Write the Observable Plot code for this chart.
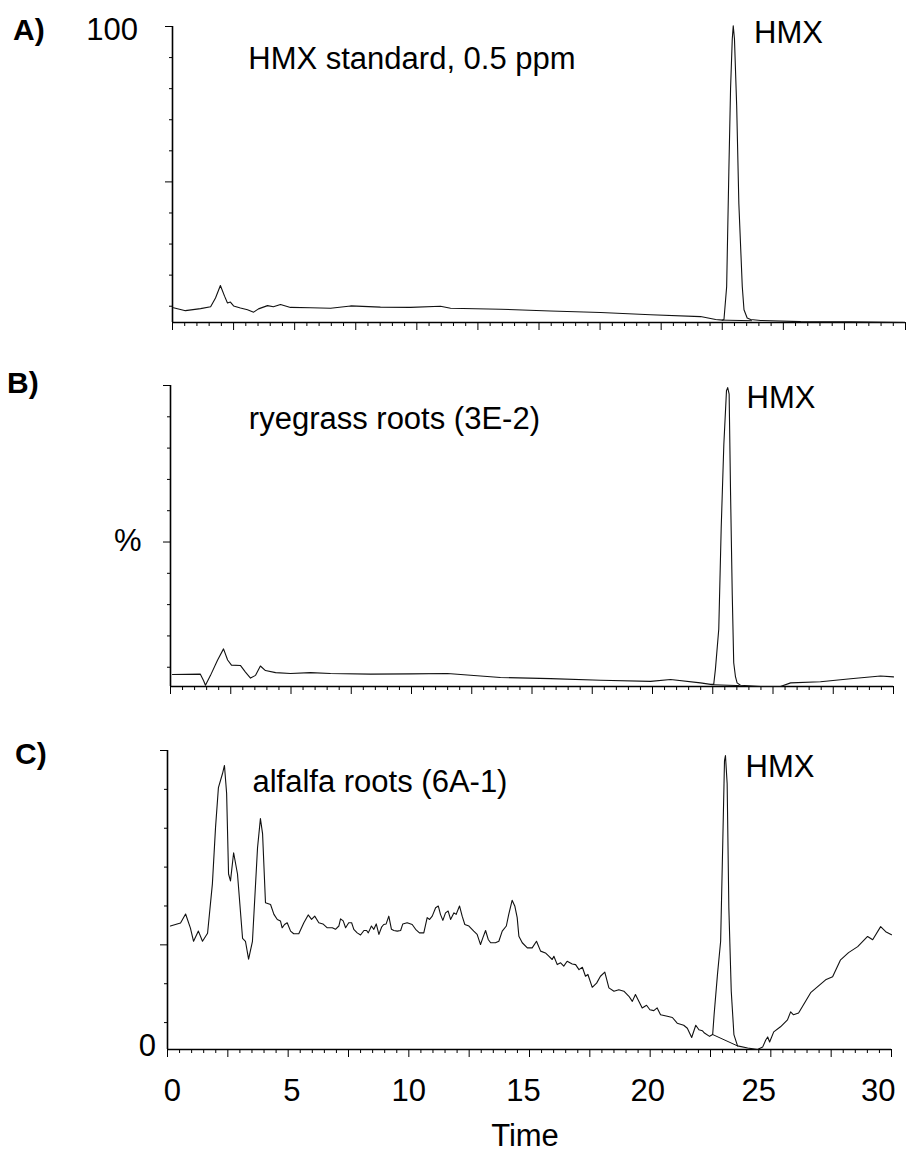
<!DOCTYPE html>
<html>
<head>
<meta charset="utf-8">
<script src="https://cdn.jsdelivr.net/npm/d3@7"></script>
<script src="https://cdn.jsdelivr.net/npm/@observablehq/plot@0.6"></script>
<style>
  body { margin: 0; background: #fff; }
  #chart { position: relative; width: 907px; height: 1155px; background: #fff; font-family: "Liberation Sans", Arial, sans-serif; }
  #chart > .panel { position: absolute; left: 0; }
  #overlay { position: absolute; left: 0; top: 0; pointer-events: none; }
</style>
</head>
<body>
<div id="chart"></div>
<script>
// ---------- DATA ----------
// Panel A: HMX standard, 0.5 ppm  (time in min, relative abundance %)
const timeA = [0.04, 0.53, 1.15, 1.56, 1.76, 1.96, 2.13, 2.25, 2.37, 2.50, 2.78, 3.07, 3.32, 3.52, 3.89, 4.13, 4.42, 4.83, 5.65, 6.47, 7.29, 8.51, 9.74, 10.97, 11.38, 13.43, 15.47, 17.52, 19.57, 21.61, 22.23, 22.51, 22.57, 22.68, 22.77, 22.84, 22.91, 22.95, 23.00, 23.09, 23.18, 23.32, 23.39, 23.52, 23.66, 24.07, 25.71, 27.75, 30.0];
const valueA = [5.0, 4.0, 4.7, 5.3, 8.3, 12.5, 8.9, 6.6, 6.9, 5.6, 4.9, 4.3, 3.5, 4.6, 5.7, 5.3, 6.1, 5.1, 5.0, 4.8, 5.6, 5.2, 5.1, 5.5, 4.8, 4.5, 3.9, 3.4, 2.6, 2.0, 1.0, 0.8, 1.0, 12.1, 51, 79, 95.8, 100.2, 95.8, 73.4, 40, 12.1, 4.3, 1.5, 1.0, 0.7, 0.3, 0.2, 0.0];
const baseTimeA = [22.5, 23.7];
const baseValueA = [0.8, 0.6];

// Panel B: ryegrass roots (3E-2)
const timeB = [0.08, 1.24, 1.37, 1.45, 1.66, 1.95, 2.20, 2.37, 2.53, 2.90, 3.11, 3.32, 3.53, 3.73, 3.94, 4.36, 4.98, 5.81, 6.64, 8.30, 9.96, 11.49, 13.69, 15.77, 17.84, 19.92, 20.75, 21.99, 22.41, 22.54, 22.61, 22.75, 22.85, 22.96, 23.07, 23.12, 23.18, 23.24, 23.31, 23.37, 23.44, 23.51, 23.65, 24.48, 25.31, 25.73, 26.97, 28.22, 29.46, 30.0];
const valueB = [4.0, 4.1, 2.0, 0.4, 3.7, 8.7, 12.5, 8.8, 7.1, 7.0, 4.8, 2.8, 3.7, 6.8, 5.3, 4.6, 4.3, 4.6, 4.3, 4.1, 4.2, 4.3, 3.0, 2.6, 2.1, 1.7, 2.3, 1.2, 0.7, 0.7, 5.7, 19.1, 52.5, 80.4, 98.3, 99.3, 97.1, 63.7, 30.3, 7.9, 3.4, 1.2, 0.4, 0, 0, 1.2, 1.6, 2.6, 3.5, 3.2];
const baseTimeB = [22.45, 23.6];
const baseValueB = [0.6, 0.3];

// Panel C: alfalfa roots (6A-1)
const timeC = [0.12, 0.54, 0.75, 0.95, 1.08, 1.28, 1.45, 1.66, 1.86, 1.99, 2.11, 2.28, 2.36, 2.45, 2.53, 2.61, 2.74, 2.90, 3.11, 3.23, 3.36, 3.52, 3.73, 3.85, 3.94,
  4.06, 4.27, 4.41, 4.55, 4.68, 4.75, 4.85, 4.96, 5.10, 5.23, 5.44, 5.65, 5.83, 5.97, 6.10, 6.27, 6.44, 6.62, 6.83, 6.96, 7.10, 7.17, 7.28, 7.38, 7.51, 7.63, 7.72, 7.86, 8.00, 8.14, 8.25, 8.32, 8.45, 8.55, 8.65, 8.76, 8.87, 8.96, 9.06, 9.17, 9.28, 9.38, 9.52, 9.66, 9.75, 9.93, 10.14, 10.28, 10.44, 10.62, 10.76, 10.86, 10.97, 11.11, 11.22, 11.31, 11.41, 11.52, 11.63, 11.73, 11.87, 11.96, 12.10, 12.21, 12.32, 12.49, 12.69, 12.83, 12.97, 13.07, 13.18, 13.29, 13.39, 13.59, 13.73, 13.87, 14.04, 14.14, 14.28, 14.39, 14.49,
  14.56, 14.70, 14.91, 15.11, 15.29, 15.46, 15.66, 15.80, 15.94, 16.01, 16.15, 16.29, 16.42, 16.56, 16.77, 16.91, 17.05, 17.19, 17.32, 17.42, 17.60, 17.78, 17.94, 18.12, 18.29, 18.50, 18.70, 18.91, 19.12, 19.26, 19.39, 19.53, 19.67, 19.85, 19.99, 20.15, 20.29, 20.43, 20.71, 20.92, 21.12, 21.39, 21.54, 21.72, 21.89, 22.02, 22.16,
  22.25, 22.46, 22.59, 22.65, 22.79, 22.92, 23.01, 23.08, 23.12, 23.19, 23.26, 23.36, 23.47, 23.62, 24.04, 24.45, 24.66, 24.79, 24.87, 24.95, 25.12, 25.40, 25.69, 25.82, 25.94, 26.15, 26.65, 27.27, 27.56, 27.89, 28.22, 28.60, 29.01, 29.22, 29.55, 29.76, 30.0];
const valueC = [41.3, 42.3, 45.3, 40.6, 36.2, 39.6, 36.2, 38.9, 55.4, 74.2, 87.6, 92.3, 95.0, 85.6, 58.7, 56.4, 65.8, 58.7, 37.2, 36.2, 30.2, 36.2, 67.4, 77.2, 72.1,
  49.1, 48.5, 45.2, 43.5, 43.0, 40.7, 41.8, 42.4, 39.6, 38.7, 38.7, 42.4, 45.0, 43.5, 44.6, 42.4, 42.0, 40.7, 40.7, 40.2, 41.3, 43.7, 43.0, 40.7, 42.4, 42.4, 40.2, 39.0, 38.3, 39.8, 39.8, 39.0, 41.3, 40.2, 42.0, 38.5, 40.9, 41.8, 42.0, 44.6, 40.2, 39.8, 39.6, 39.8, 42.0, 42.4, 41.8, 40.2, 39.0, 39.0, 44.1, 43.5, 44.6, 47.4, 48.0, 45.2, 43.2, 45.7, 46.3, 43.5, 45.7, 45.2, 48.0, 44.6, 41.8, 41.3, 39.6, 38.5, 35.1, 37.4, 39.8, 36.8, 35.7, 35.7, 36.2, 39.6, 41.3, 45.2, 49.9, 48.0, 44.1,
  37.9, 35.7, 34.0, 34.0, 36.2, 32.9, 32.3, 31.2, 30.1, 31.2, 28.4, 29.0, 27.9, 29.5, 28.6, 28.4, 26.7, 27.5, 24.5, 25.1, 20.8, 22.2, 24.5, 25.9, 20.6, 19.5, 20.0, 19.5, 17.8, 16.1, 18.4, 16.1, 13.9, 14.8, 13.3, 13.0, 13.9, 11.6, 11.1, 10.7, 8.8, 8.1, 7.1, 4.0, 8.1, 6.6, 6.3,
  5.5, 4.4, 5.0, 11.7, 25.2, 36.2, 69.8, 96.6, 98.3, 88.9, 47.4, 19.5, 5.0, 1.2, 0.5, 0, 0.8, 3.2, 4.2, 2.5, 5.9, 7.6, 9.9, 12.6, 11.6, 12.2, 19.0, 23.3, 24.3, 30.0, 32.4, 34.4, 37.8, 36.7, 41.1, 39.4, 38.4];
const baseTimeC = [22.59, 23.62];
const baseValueC = [5.0, 1.2];

// Axis ticks
const xMajorTicks = [0, 2.5, 5, 7.5, 10, 12.5, 15, 17.5, 20, 22.5, 25, 27.5, 30];
const xMinorTicks = d3.range(0, 30.01, 0.5).filter(t => !xMajorTicks.includes(t));
const xTickLabels = ["0", "5", "10", "15", "20", "25", "30"];
const xTickLabelTimes = [0.2, 5.15, 10, 14.75, 19.9, 24.5, 29.45]; // where the labels sit in the original
const yTicksA = [100, 89.5, 79, 68.5, 58, 47.5, 37, 26.5, 16, 5.5];
const yTicksB = [100, 89.6, 79.2, 68.8, 58.4, 48, 37.6, 27.2, 16.8, 6.4];
const yTicksC = [100, 87, 74, 61, 48, 35, 22, 9];

const panelTitles = ["HMX standard, 0.5 ppm", "ryegrass roots (3E-2)", "alfalfa roots (6A-1)"];
const peakLabel = "HMX";

// ---------- DRAW ----------
const FONT = '"Liberation Sans", Arial, Helvetica, sans-serif';
const chart = document.getElementById("chart");

function rows(t, v) { return t.map((d, i) => ({t: d, v: v[i]})); }

function panel(cfg) {
  const longTicks = [cfg.yTicks[0], cfg.yTicks[5]];
  const shortTicks = cfg.yTicks.filter((d, i) => i !== 0 && i !== 5);
  const marks = [
    Plot.ruleY([0], {strokeWidth: 1.6}),
    Plot.ruleX([0], {strokeWidth: 1.6}),
    Plot.axisX(xMinorTicks, {tickSize: 4, fill: "none", label: null}),
    Plot.axisX(xMajorTicks, {tickSize: 8, fill: "none", label: null}),
    Plot.axisY(shortTicks, {tickSize: 3, fill: "none", label: null}),
    Plot.axisY(longTicks, {tickSize: 7, fill: "none", label: null}),
    Plot.line(rows(cfg.t, cfg.v), {x: "t", y: "v", stroke: "#111", strokeWidth: 1.1}),
    Plot.line(rows(cfg.bt, cfg.bv), {x: "t", y: "v", stroke: "#111", strokeWidth: 1}),
    Plot.text([cfg.title], {x: cfg.titleX, y: cfg.titleY, textAnchor: "start", lineAnchor: "bottom", fontSize: 31}),
    Plot.text([peakLabel], {x: cfg.hmxX, y: cfg.hmxY, textAnchor: "start", lineAnchor: "bottom", fontSize: 31})
  ];
  if (cfg.labels) {
    const lab = xTickLabels.map((l, i) => ({t: xTickLabelTimes[i], label: l}));
    marks.push(Plot.text(lab, {x: "t", text: "label", frameAnchor: "bottom", dy: 29, lineAnchor: "top", fontSize: 31}));
  }
  const svg = Plot.plot({
    width: 907,
    height: cfg.height,
    marginLeft: cfg.ml,
    marginRight: cfg.mr,
    marginTop: cfg.mt,
    marginBottom: cfg.mb,
    x: {domain: [0, 30], axis: null},
    y: {domain: [0, 100], axis: null},
    style: {fontFamily: FONT, background: "transparent", color: "#000"},
    marks
  });
  const wrap = document.createElement("div");
  wrap.className = "panel";
  wrap.style.top = cfg.top + "px";
  wrap.appendChild(svg);
  chart.appendChild(wrap);
}

panel({t: timeA, v: valueA, bt: baseTimeA, bv: baseValueA, yTicks: yTicksA,
  top: 0, height: 336, ml: 172, mr: 2, mt: 26, mb: 14,
  title: panelTitles[0], titleX: 3.1, titleY: 85.5, hmxX: 23.8, hmxY: 94.3});
panel({t: timeB, v: valueB, bt: baseTimeB, bv: baseValueB, yTicks: yTicksB,
  top: 350, height: 350, ml: 170, mr: 14, mt: 35, mb: 14,
  title: panelTitles[1], titleX: 3.25, titleY: 85.7, hmxX: 23.9, hmxY: 92.4});
panel({t: timeC, v: valueC, bt: baseTimeC, bv: baseValueC, yTicks: yTicksC,
  top: 720, height: 435, ml: 167, mr: 16, mt: 30, mb: 106, labels: true,
  title: panelTitles[2], titleX: 3.52, titleY: 86.0, hmxX: 23.95, hmxY: 91.3});

// Outer labels (panel letters, y-axis text, x-axis title)
const ns = "http://www.w3.org/2000/svg";
const ov = document.createElementNS(ns, "svg");
ov.setAttribute("id", "overlay");
ov.setAttribute("width", 907);
ov.setAttribute("height", 1155);
ov.setAttribute("font-family", FONT);
const outer = [
  {text: "A)", x: 13, y: 40, bold: true},
  {text: "100", x: 138, y: 40, anchor: "end"},
  {text: "B)", x: 7, y: 393, bold: true},
  {text: "%", x: 114, y: 551},
  {text: "C)", x: 15, y: 764, bold: true},
  {text: "0", x: 156, y: 1056, anchor: "end"},
  {text: "Time", x: 525, y: 1146, anchor: "middle"}
];
for (const o of outer) {
  const el = document.createElementNS(ns, "text");
  el.setAttribute("x", o.x);
  el.setAttribute("y", o.y);
  el.setAttribute("font-size", o.bold ? 30 : 31);
  if (o.bold) el.setAttribute("font-weight", "bold");
  el.setAttribute("text-anchor", o.anchor || "start");
  el.textContent = o.text;
  ov.appendChild(el);
}
chart.appendChild(ov);
</script>
</body>
</html>
